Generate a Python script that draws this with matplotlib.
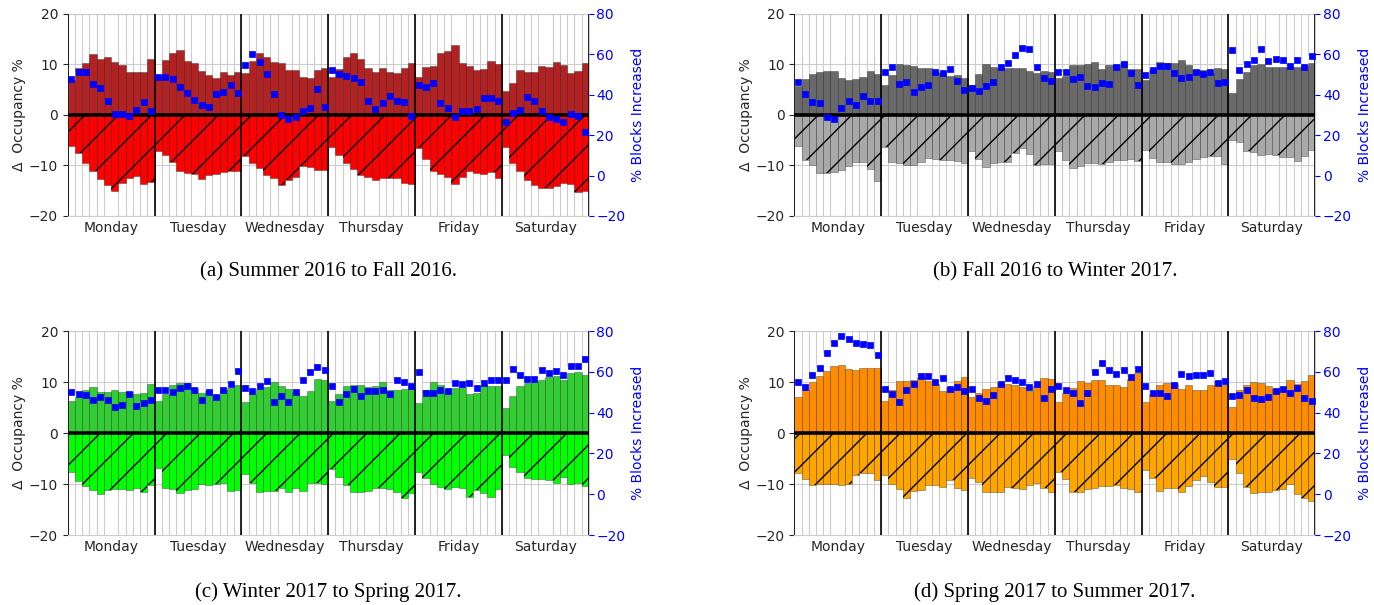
import numpy as np
import matplotlib
matplotlib.use("Agg")
import matplotlib.pyplot as plt
import seaborn as sns

# day labels, 12 hourly bins per day
days = ["Monday", "Tuesday", "Wednesday", "Thursday", "Friday", "Saturday"]
hours_per_day = 12

captions = ["(a) Summer 2016 to Fall 2016.", "(b) Fall 2016 to Winter 2017.",
            "(c) Winter 2017 to Spring 2017.", "(d) Spring 2017 to Summer 2017."]

# (a) Summer 2016 -> Fall 2016
inc_a = [7.0, 9.3, 10.2, 12.1, 11.1, 11.5, 10.4, 9.8, 8.5, 8.5, 8.5, 11.1,
         7.7, 10.8, 12.3, 12.9, 10.6, 10.2, 8.7, 7.9, 7.4, 8.5, 7.9, 8.6,
         8.3, 10.6, 12.3, 11.5, 10.4, 10.2, 8.9, 8.8, 7.6, 7.3, 8.9, 9.2,
         7.5, 9.0, 11.4, 12.2, 11.1, 9.2, 8.5, 9.2, 8.5, 8.4, 9.2, 10.3,
         7.5, 9.5, 9.6, 12.3, 12.6, 13.8, 10.2, 9.7, 8.8, 9.0, 10.6, 10.0,
         4.7, 6.4, 8.9, 8.6, 8.5, 9.6, 9.4, 10.4, 9.8, 8.3, 8.7, 10.2]
dec_a = [-6.2, -7.5, -9.6, -11.0, -12.7, -13.9, -15.0, -13.4, -12.5, -12.1, -13.6, -13.2,
         -7.1, -8.0, -9.4, -11.0, -11.5, -11.7, -12.6, -11.8, -11.7, -11.3, -11.0, -11.1,
         -8.2, -9.6, -10.6, -11.9, -12.5, -13.9, -12.8, -12.2, -10.1, -10.4, -10.8, -10.8,
         -6.4, -8.0, -9.6, -10.7, -11.8, -12.3, -12.9, -12.5, -12.5, -12.5, -13.5, -13.7,
         -6.6, -8.7, -11.1, -11.7, -12.3, -13.6, -12.3, -11.1, -11.5, -11.7, -11.3, -12.5,
         -6.4, -9.6, -11.0, -12.9, -13.8, -14.4, -14.4, -14.0, -13.4, -13.6, -15.2, -15.1]
blk_a = [47.7, 51.3, 51.3, 45.4, 43.4, 36.9, 30.3, 30.7, 29.7, 32.6, 36.6, 32.1,
         48.7, 48.7, 47.7, 43.8, 41.1, 37.2, 35.1, 33.9, 40.2, 41.5, 44.6, 40.7,
         54.6, 60.2, 56.1, 50.5, 40.3, 29.8, 28.0, 29.0, 31.8, 33.4, 42.6, 34.1,
         52.1, 50.3, 49.3, 48.2, 46.2, 36.7, 32.8, 35.7, 39.5, 36.7, 36.6, 29.3,
         44.6, 44.0, 45.7, 35.7, 33.4, 29.1, 32.2, 32.2, 32.8, 38.5, 38.5, 36.7,
         26.7, 31.0, 32.5, 38.7, 36.7, 32.0, 29.0, 28.0, 26.6, 30.7, 29.3, 21.6]

# (b) Fall 2016 -> Winter 2017
inc_b = [5.8, 7.2, 8.1, 8.5, 8.7, 8.7, 7.4, 7.0, 7.1, 7.6, 8.7, 8.1,
         5.9, 8.0, 10.0, 9.9, 9.6, 9.3, 9.3, 8.5, 8.3, 7.7, 8.0, 7.4,
         6.0, 8.1, 10.0, 9.5, 9.2, 9.2, 9.2, 9.3, 8.7, 8.4, 8.7, 8.5,
         7.3, 7.8, 9.8, 9.8, 10.1, 10.4, 9.1, 9.9, 9.8, 10.3, 9.1, 9.0,
         7.0, 8.9, 10.4, 10.2, 10.2, 10.8, 9.8, 8.9, 8.9, 8.4, 9.2, 9.0,
         4.4, 7.2, 8.5, 9.8, 10.0, 9.5, 9.4, 9.4, 9.5, 9.4, 9.7, 10.3]
dec_b = [-6.2, -8.9, -9.9, -11.4, -11.5, -11.3, -10.9, -10.1, -9.4, -9.3, -10.7, -13.1,
         -6.4, -9.4, -9.6, -9.9, -9.9, -9.4, -8.6, -8.7, -8.9, -9.0, -9.2, -9.6,
         -7.2, -8.8, -10.3, -9.6, -9.4, -9.4, -7.6, -6.6, -7.7, -10.0, -9.8, -9.8,
         -7.1, -8.9, -10.5, -10.2, -9.6, -9.6, -9.8, -9.4, -9.0, -8.9, -8.7, -9.2,
         -7.0, -8.5, -9.3, -9.3, -9.7, -9.7, -9.3, -8.7, -8.4, -8.2, -8.1, -9.8,
         -4.9, -5.4, -7.2, -7.3, -8.0, -7.7, -8.0, -8.3, -8.3, -9.2, -8.2, -6.9]
blk_b = [46.2, 40.5, 36.2, 35.7, 29.0, 28.2, 33.4, 36.7, 34.9, 39.5, 36.7, 37.0,
         51.5, 53.6, 45.2, 46.2, 41.6, 43.9, 44.8, 51.5, 50.7, 52.8, 46.7, 42.5,
         43.4, 41.8, 44.3, 46.2, 53.6, 55.9, 59.5, 63.3, 62.6, 53.6, 48.4, 47.0,
         51.5, 51.2, 47.6, 48.7, 44.4, 43.6, 45.7, 45.2, 53.9, 55.2, 50.7, 44.8,
         50.0, 52.0, 54.4, 54.1, 50.7, 48.4, 48.7, 51.2, 50.2, 51.5, 45.9, 46.1,
         62.0, 52.3, 55.4, 57.0, 62.6, 56.7, 57.9, 57.4, 54.4, 57.4, 53.9, 59.0]

# (c) Winter 2017 -> Spring 2017
inc_c = [6.2, 7.0, 8.5, 9.0, 8.1, 8.0, 8.4, 8.1, 8.1, 7.7, 7.9, 9.6,
         6.2, 7.7, 9.4, 9.9, 9.8, 8.9, 7.9, 8.2, 7.5, 8.5, 8.9, 9.5,
         6.1, 7.7, 8.7, 9.0, 10.0, 9.2, 8.7, 8.1, 7.3, 8.3, 10.6, 10.4,
         6.2, 7.7, 9.2, 9.5, 9.4, 9.0, 9.3, 10.0, 8.5, 8.5, 8.7, 8.7,
         5.9, 8.5, 10.0, 9.5, 8.5, 8.9, 9.0, 7.7, 7.9, 9.2, 9.3, 9.3,
         4.9, 7.2, 9.2, 9.8, 10.0, 10.4, 11.0, 11.1, 10.5, 11.8, 11.9, 11.3]
dec_c = [-7.7, -9.4, -10.4, -11.1, -11.9, -11.1, -11.0, -11.0, -11.1, -10.7, -11.5, -10.2,
         -6.9, -10.7, -11.0, -11.8, -11.1, -10.9, -9.9, -10.2, -10.0, -9.8, -11.3, -11.1,
         -8.0, -9.8, -11.6, -11.3, -11.4, -10.8, -11.6, -10.8, -11.3, -9.7, -9.8, -10.0,
         -7.1, -8.7, -10.2, -11.6, -11.5, -11.3, -10.7, -10.7, -10.9, -11.5, -12.7, -11.7,
         -7.7, -8.9, -9.9, -10.5, -10.9, -10.5, -10.8, -12.5, -11.1, -11.8, -12.5, -11.0,
         -4.3, -6.6, -7.6, -8.8, -9.1, -9.0, -9.2, -9.7, -8.7, -10.0, -9.8, -10.4]
blk_c = [50.2, 49.4, 48.9, 46.4, 47.6, 46.1, 42.6, 43.6, 49.2, 43.1, 44.9, 46.2,
         51.3, 51.3, 50.0, 52.1, 53.3, 51.3, 46.1, 50.0, 47.9, 51.3, 54.0, 60.2,
         52.1, 50.5, 53.3, 55.6, 45.4, 48.2, 45.4, 50.3, 56.1, 60.0, 62.6, 61.1,
         53.0, 45.2, 49.2, 51.5, 48.4, 50.8, 50.8, 51.3, 49.2, 56.2, 54.9, 53.1,
         59.8, 49.7, 49.7, 51.3, 50.8, 54.4, 53.9, 54.4, 52.3, 54.6, 56.1, 56.1,
         56.1, 61.5, 58.4, 56.4, 56.7, 61.1, 59.5, 60.2, 58.5, 63.1, 63.1, 66.4]

# (d) Spring 2017 -> Summer 2017
inc_d = [7.0, 8.5, 10.0, 11.1, 12.1, 13.2, 13.4, 12.6, 12.3, 12.7, 12.7, 12.7,
         6.3, 8.4, 10.2, 10.2, 10.4, 11.0, 10.3, 9.6, 8.2, 8.9, 10.2, 11.0,
         7.0, 7.8, 8.7, 9.0, 10.0, 9.7, 9.4, 9.0, 8.2, 9.3, 10.8, 10.6,
         6.1, 7.9, 8.9, 10.2, 9.8, 10.5, 10.4, 9.4, 9.4, 9.0, 10.7, 11.7,
         6.1, 7.7, 9.5, 9.8, 9.8, 8.7, 9.5, 8.5, 8.4, 9.5, 10.2, 9.5,
         5.1, 8.4, 9.4, 10.0, 9.8, 9.2, 8.7, 9.0, 10.4, 9.6, 10.2, 11.3]
dec_d = [-7.8, -9.0, -10.2, -10.0, -9.9, -9.9, -10.2, -9.9, -8.3, -7.9, -7.9, -9.2,
         -8.2, -10.0, -10.9, -12.7, -11.3, -11.1, -10.2, -10.2, -10.5, -9.2, -10.8, -11.1,
         -8.9, -9.6, -11.5, -11.5, -11.5, -10.6, -10.8, -10.9, -10.2, -9.7, -10.8, -11.5,
         -7.7, -9.0, -11.5, -11.5, -10.9, -10.8, -10.4, -10.4, -10.2, -10.8, -11.0, -11.5,
         -7.3, -8.9, -11.3, -10.7, -10.7, -11.5, -10.4, -9.3, -8.4, -9.6, -10.5, -10.5,
         -5.0, -7.9, -10.5, -11.7, -11.6, -11.5, -11.1, -11.0, -10.0, -12.0, -12.8, -13.3]
blk_d = [55.1, 52.6, 58.7, 62.0, 69.2, 74.3, 77.5, 75.9, 74.1, 73.8, 73.1, 68.5,
         51.5, 49.2, 45.1, 51.1, 53.9, 58.0, 58.0, 55.2, 57.0, 51.8, 52.5, 50.5,
         51.5, 47.2, 45.9, 48.7, 54.1, 57.0, 56.2, 55.2, 52.5, 54.3, 47.0, 51.6,
         53.0, 51.0, 49.7, 44.9, 49.7, 59.8, 64.6, 61.0, 59.0, 60.7, 57.4, 61.6,
         53.1, 49.7, 49.5, 48.2, 53.4, 59.2, 58.2, 58.5, 58.5, 59.5, 54.6, 55.7,
         48.0, 48.5, 51.0, 47.4, 46.6, 47.7, 50.5, 51.8, 49.7, 52.1, 47.0, 45.7]

inc_colors = ["firebrick", "dimgray", "limegreen", "darkorange"]
dec_colors = ["red", "darkgray", "lime", "orange"]

sns.set_style("whitegrid")
plt.rcParams["font.family"] = ["DejaVu Sans"]
plt.rcParams["font.size"] = 10

fig = plt.figure(figsize=(13.74, 6.05), dpi=100)

# axes boxes (left, bottom, width, height) in figure fraction
boxes = [[0.0493, 0.643, 0.3792, 0.334],
         [0.5781, 0.643, 0.3792, 0.334],
         [0.0493, 0.1157, 0.3792, 0.337],
         [0.5781, 0.1157, 0.3792, 0.337]]
caption_y = [0.550, 0.550, 0.021, 0.021]

panels = [(inc_a, dec_a, blk_a), (inc_b, dec_b, blk_b),
          (inc_c, dec_c, blk_c), (inc_d, dec_d, blk_d)]
n = len(days) * hours_per_day
x = np.arange(n)
edge = (0, 0, 0, 0.3)

for k, (inc, dec, blk) in enumerate(panels):
    ax = fig.add_axes(boxes[k])
    ax2 = ax.twinx()
    ax2.set_ylim(-20, 80)

    # white backing bars up to the blocks value (right axis units)
    ax.bar(x, np.array(blk) - 30, bottom=30, width=1, align="edge",
           color="white", linewidth=0, zorder=1, transform=ax2.transData)
    ax.bar(x, inc, width=1, align="edge", color=inc_colors[k],
           edgecolor=edge, linewidth=0.7, zorder=2)
    ax.bar(x, dec, width=1, align="edge", color=dec_colors[k],
           edgecolor=edge, linewidth=0.7, zorder=2)
    # black hatch on top of the decrease bars
    ax.bar(x, dec, width=1, align="edge", facecolor="none",
           edgecolor="black", linewidth=0, hatch="/", zorder=2.5)
    ax.axhline(0, color="black", lw=2.6, zorder=4)
    for d in range(len(days) + 1):
        ax.axvline(d * hours_per_day, color="black", lw=1.2, zorder=4)

    ax.set_xlim(0, n)
    ax.set_ylim(-20, 20)
    ax.set_yticks([-20, -10, 0, 10, 20])
    ax.set_xticks([d * hours_per_day + hours_per_day / 2 for d in range(len(days))], days)
    ax.set_xticks(range(n + 1), minor=True)
    ax.grid(True, which="minor", axis="x", color=".8", lw=0.8)
    ax.grid(False, which="major", axis="x")
    ax.tick_params(axis="x", pad=0)
    ax.set_ylabel("Δ  Occupancy %", labelpad=2)

    ax2.plot(x + 0.5, blk, "s", color="blue", ms=5, mew=0.5, ls="none", zorder=5)
    ax2.set_yticks(range(-20, 81, 20))
    ax2.grid(False)
    ax2.tick_params(axis="y", colors="blue", pad=2)
    ax2.set_ylabel("% Blocks Increased", color="blue")
    for s in ax2.spines.values():
        s.set_visible(False)

    fig.text(boxes[k][0] + boxes[k][2] / 2, caption_y[k], captions[k],
             ha="center", va="center", family="Liberation Serif",
             fontsize=15, color="black")

fig.savefig("out.png", dpi=100)
